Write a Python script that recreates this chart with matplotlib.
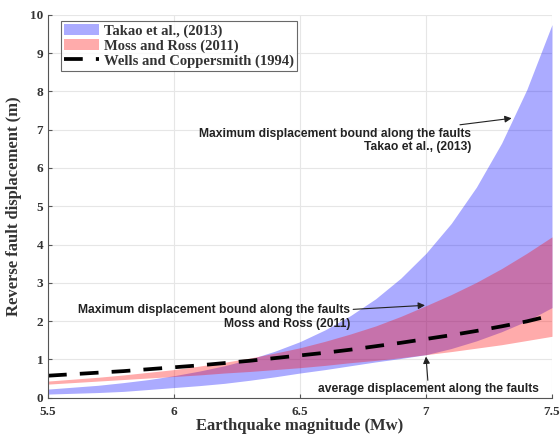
import matplotlib
matplotlib.use("Agg")
import matplotlib.pyplot as plt

# Data (estimated every 0.1 Mw)
mw = [5.5, 5.6, 5.7, 5.8, 5.9, 6.0, 6.1, 6.2, 6.3, 6.4, 6.5,
      6.6, 6.7, 6.8, 6.9, 7.0, 7.1, 7.2, 7.3, 7.4, 7.5]
takao_lower = [0.09, 0.11, 0.13, 0.16, 0.21, 0.26, 0.31, 0.37, 0.45, 0.54, 0.64,
               0.73, 0.83, 0.93, 1.02, 1.12, 1.28, 1.48, 1.72, 2.0, 2.35]
takao_upper = [0.22, 0.27, 0.32, 0.39, 0.47, 0.57, 0.69, 0.83, 1.0, 1.21, 1.46,
               1.77, 2.14, 2.58, 3.12, 3.77, 4.55, 5.5, 6.65, 8.05, 9.75]
moss_lower = [0.35, 0.39, 0.43, 0.47, 0.51, 0.55, 0.59, 0.64, 0.68, 0.73, 0.78,
              0.84, 0.91, 0.97, 1.04, 1.12, 1.2, 1.29, 1.38, 1.49, 1.6]
moss_upper = [0.43, 0.48, 0.53, 0.59, 0.66, 0.73, 0.82, 0.92, 1.03, 1.16, 1.30,
              1.47, 1.66, 1.87, 2.12, 2.4, 2.69, 3.01, 3.37, 3.77, 4.2]
wells_avg = [0.57, 0.61, 0.65, 0.69, 0.74, 0.79, 0.84, 0.90, 0.96, 1.03, 1.10,
             1.17, 1.25, 1.34, 1.43, 1.53, 1.63, 1.74, 1.86, 1.99, 2.15]

xticks = [5.5, 6, 6.5, 7, 7.5]
xtick_labels = ["5.5", "6", "6.5", "7", "7.5"]
yticks = list(range(0, 11))

serif = ["Liberation Serif", "DejaVu Serif"]
sans = ["Liberation Sans", "DejaVu Sans"]

fig = plt.figure(figsize=(5.6, 4.36), dpi=100)
ax = fig.add_axes([0.0857, 0.0883, 0.9, 0.8773])

ax.fill_between(mw, takao_lower, takao_upper, color=(0, 0, 1), alpha=0.33,
                linewidth=0, label="Takao et al., (2013)")
ax.fill_between(mw, moss_lower, moss_upper, color=(1, 0, 0), alpha=0.33,
                linewidth=0, label="Moss and Ross (2011)")
ax.plot(mw, wells_avg, color="black", linestyle=(0, (5, 3.5)), linewidth=2.7,
        label="Wells and Coppersmith (1994)")

ax.set_xlim(5.5, 7.5)
ax.set_ylim(0, 10)
ax.set_xticks(xticks)
ax.set_xticklabels(xtick_labels)
ax.set_yticks(yticks)
ax.grid(True, color="#e6e6e6", linewidth=0.8)
ax.set_axisbelow(True)
for s in ["top", "right"]:
    ax.spines[s].set_visible(False)
for s in ["left", "bottom"]:
    ax.spines[s].set_color("#555555")
    ax.spines[s].set_linewidth(0.8)
ax.tick_params(direction="in", length=3, color="#555555", labelsize=9.5,
               labelcolor="#333333")
ax.tick_params(axis="x", pad=6)
for lab in ax.get_xticklabels() + ax.get_yticklabels():
    lab.set_family(serif)
    lab.set_fontweight("bold")

ax.set_xlabel("Earthquake magnitude (Mw)", family=serif, fontweight="bold",
              fontsize=12, color="#333333", labelpad=0)
ax.set_ylabel("Reverse fault displacement (m)", family=serif, fontweight="bold",
              fontsize=12, color="#333333", labelpad=6)

leg = ax.legend(loc="upper left", bbox_to_anchor=(0.025, 0.985),
                prop={"family": serif, "weight": "bold", "size": 10.5},
                frameon=True, fancybox=False, edgecolor="#444444",
                borderpad=0.25, labelspacing=0.1, handlelength=2.4,
                handletextpad=0.3, borderaxespad=0)
leg.get_frame().set_linewidth(0.8)
for t in leg.get_texts():
    t.set_color("#333333")

ann_kw = dict(family=sans, fontweight="bold", fontsize=8.7, color="#222222")
arrow = dict(arrowstyle="-|>", color="#222222", lw=0.8, mutation_scale=10,
             shrinkA=0, shrinkB=0)

ax.annotate("Maximum displacement bound along the faults\nTakao et al., (2013)",
            xy=(7.34, 7.3), xytext=(7.18, 6.72), ha="right", va="center",
            multialignment="right", arrowprops=arrow, **ann_kw)
ax.annotate("Maximum displacement bound along the faults\nMoss and Ross (2011)",
            xy=(6.996, 2.41), xytext=(6.7, 2.1), ha="right", va="center",
            multialignment="right", arrowprops=arrow, **ann_kw)
ax.annotate("average displacement along the faults",
            xy=(7.0, 1.07), xytext=(7.01, 0.22), ha="center", va="center",
            arrowprops=arrow, **ann_kw)

fig.savefig("out.png", dpi=100)
